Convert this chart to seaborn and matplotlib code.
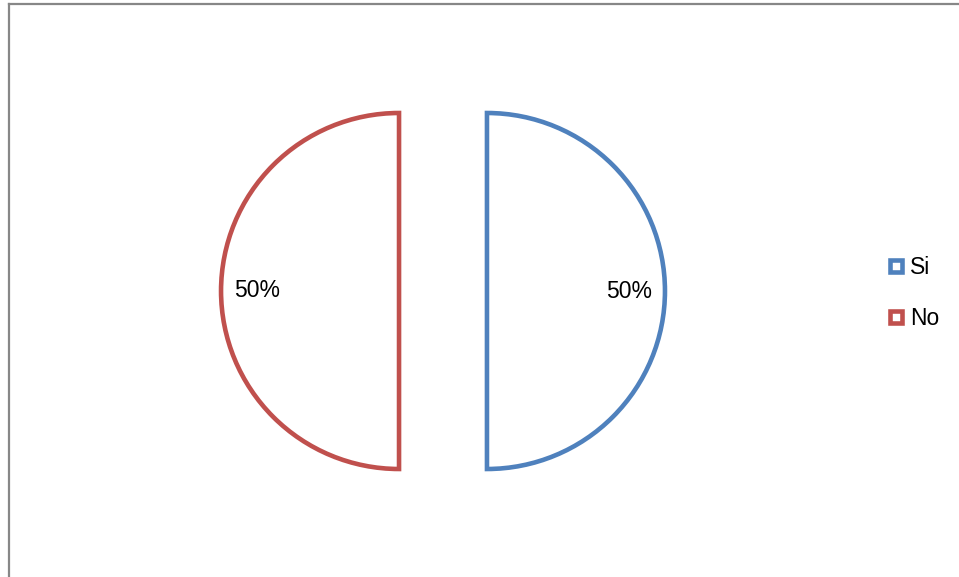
import matplotlib
matplotlib.use("Agg")
import seaborn as sns
import matplotlib.pyplot as plt
from matplotlib.lines import Line2D

sns.set_style("white")
plt.rcParams['font.family'] = ['Liberation Sans Narrow', 'Liberation Sans', 'DejaVu Sans']
plt.rcParams['text.color'] = 'black'

labels = ['Si', 'No']
values = [50, 50]
colors = ['#4F81BD', '#C0504D']

W, H = 959, 577
R = 178.0  # pie radius in pixels

fig = plt.figure(figsize=(W / 100, H / 100), dpi=100)
ax = fig.add_axes([0, 0, 1, 1])

wedges, texts, autotexts = ax.pie(
    values, labels=None, colors=['white', 'white'], startangle=90,
    counterclock=False, explode=[0.247, 0.247], radius=1,
    center=(443 / R, (H - 291) / R), autopct='%1.0f%%', pctdistance=0.8,
    textprops={'fontsize': 16.5, 'color': '#000000'},
    wedgeprops={'linewidth': 3.3, 'joinstyle': 'miter'},
    frame=True)
ax.axis('off')
ax.set_xlim(0, W / R)
ax.set_ylim(0, H / R)
ax.set_aspect('equal')
for w, c in zip(wedges, colors):
    w.set_edgecolor(c)

# chart frame
fig.add_artist(Line2D([9 / W, 9 / W], [0, 1 - 4 / H], color='#878787', lw=1.6,
                      transform=fig.transFigure, solid_capstyle='projecting'))
fig.add_artist(Line2D([9 / W, 1], [1 - 4 / H, 1 - 4 / H], color='#878787', lw=1.6,
                      transform=fig.transFigure, solid_capstyle='projecting'))

handles = [Line2D([], [], marker='s', linestyle='none', markersize=8.5,
                  markerfacecolor='white', markeredgecolor=c, markeredgewidth=3.3)
           for c in colors]
fig.legend(handles, labels, loc='center left', bbox_to_anchor=(888 / W, 1 - 293 / H),
           frameon=False, fontsize=16.5, handlelength=0.7, handletextpad=0.28,
           labelspacing=1.25, borderpad=0, borderaxespad=0, labelcolor='black')

fig.savefig('out.png', dpi=100)
